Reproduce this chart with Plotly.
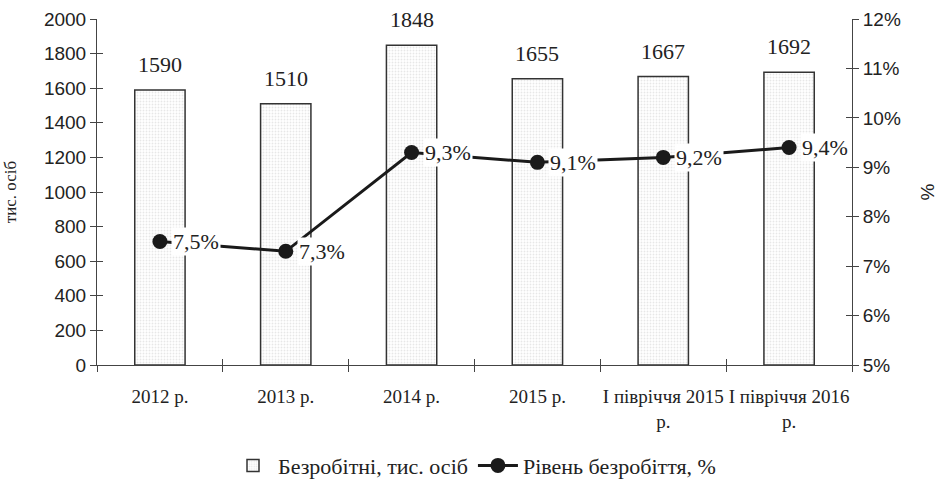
import plotly.graph_objects as go

categories = ["2012 р.", "2013 р.", "2014 р.", "2015 р.", "I півріччя 2015<br>р.", "I півріччя 2016<br>р."]
unemployed = [1590, 1510, 1848, 1655, 1667, 1692]
rate = [7.5, 7.3, 9.3, 9.1, 9.2, 9.4]
rate_labels = ["7,5%", "7,3%", "9,3%", "9,1%", "9,2%", "9,4%"]

serif = "Liberation Serif, Times New Roman, serif"
sans = "Liberation Sans, Arial, sans-serif"
txt = "#222"

fig = go.Figure()
fig.add_trace(go.Bar(
    x=categories, y=unemployed, name="Безробітні, тис. осіб",
    width=0.4,
    marker=dict(color="white", line=dict(color="#333", width=1.5),
                pattern=dict(shape=".", size=3, solidity=0.3, fgcolor="#cfcfcf", bgcolor="white")),
    hoverinfo="skip",
))
fig.add_trace(go.Scatter(
    x=categories, y=rate, name="Рівень безробіття, %", yaxis="y2",
    mode="lines+markers", line=dict(color="#1a1a1a", width=3),
    marker=dict(size=15, color="#1a1a1a"),
))
# invisible helpers so the inner half of crossing ticks is drawn
fig.add_trace(go.Scatter(x=categories, y=unemployed, xaxis="x2", yaxis="y3",
                         mode="markers", marker=dict(opacity=0), showlegend=False, hoverinfo="skip"))
fig.add_trace(go.Scatter(x=categories, y=rate, xaxis="x2", yaxis="y4",
                         mode="markers", marker=dict(opacity=0), showlegend=False, hoverinfo="skip"))
for c, v in zip(categories, unemployed):
    fig.add_annotation(x=c, y=v, text=str(v), showarrow=False, yanchor="bottom", yshift=11,
                       font=dict(family=serif, size=22, color=txt))
for c, r, t in zip(categories, rate, rate_labels):
    fig.add_annotation(x=c, y=r, yref="y2", text=t, showarrow=False,
                       xanchor="left", xshift=11, bgcolor="white",
                       font=dict(family=serif, size=22, color=txt))

tick_col = "#444"
fig.update_layout(
    width=938, height=488,
    margin=dict(l=97, r=86, t=19, b=123, autoexpand=False),
    plot_bgcolor="white", paper_bgcolor="white",
    bargap=0.6, showlegend=True,
    legend=dict(orientation="h", x=0.5, xanchor="center", y=-0.23, yanchor="top",
                font=dict(family=serif, size=22, color=txt), itemwidth=40),
    xaxis=dict(type="category", tickson="boundaries", ticks="outside", ticklen=6,
               tickangle=0, automargin=False, ticklabelstandoff=14,
               tickcolor=tick_col, showline=True, linecolor=tick_col, linewidth=1,
               tickfont=dict(family=serif, size=19, color=txt), showgrid=False),
    xaxis2=dict(type="category", matches="x", overlaying="x", tickson="boundaries",
                ticks="inside", ticklen=6, tickcolor=tick_col, showticklabels=False,
                showline=False, showgrid=False, side="bottom", automargin=False),
    yaxis=dict(range=[0, 2000], dtick=200, ticks="outside", ticklen=6, tickcolor=tick_col,
               showline=True, linecolor=tick_col, showgrid=False, zeroline=False, automargin=False,
               tickfont=dict(family=sans, size=19, color=txt),
               title=dict(text="тис. осіб", font=dict(family=serif, size=17, color=txt), standoff=22)),
    yaxis2=dict(range=[5, 12], dtick=1, overlaying="y", side="right", ticks="outside",
                ticklen=6, tickcolor=tick_col, showline=True, linecolor=tick_col, showgrid=False,
                zeroline=False, ticksuffix="%", automargin=False,
                tickfont=dict(family=sans, size=19, color=txt),
                title=dict(text="%", font=dict(family=sans, size=19, color=txt), standoff=20)),
    yaxis3=dict(range=[0, 2000], dtick=200, overlaying="y", side="left", ticks="inside",
                ticklen=6, tickcolor=tick_col, showticklabels=False, showline=False,
                showgrid=False, zeroline=False, automargin=False),
    yaxis4=dict(range=[5, 12], dtick=1, overlaying="y", side="right", ticks="inside",
                ticklen=6, tickcolor=tick_col, showticklabels=False, showline=False,
                showgrid=False, zeroline=False, automargin=False),
)
fig.write_html("out.html", post_script="document.body.style.margin='0';",
               config={"displayModeBar": False})
